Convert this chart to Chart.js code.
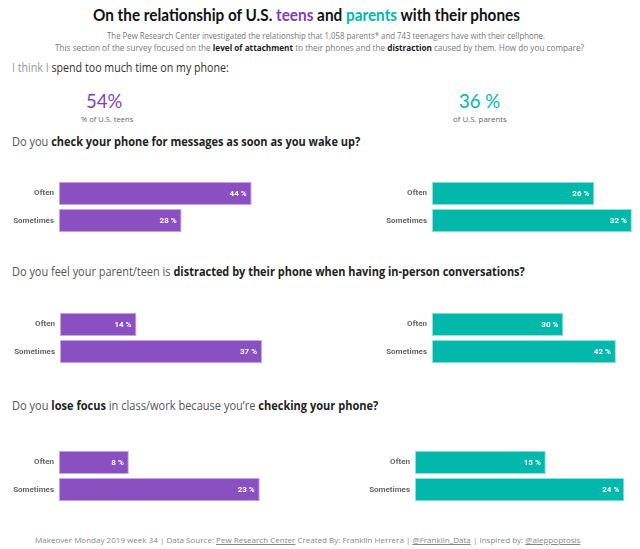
<!DOCTYPE html>
<html>
<head>
<meta charset="utf-8">
<script src="https://cdn.jsdelivr.net/npm/chart.js@4"></script>
<style>
  html, body { margin: 0; padding: 0; background: #fff; }
  #page { position: relative; width: 640px; height: 549px; overflow: hidden; font-family: "Open Sans", sans-serif; }
  .t { position: absolute; white-space: nowrap; line-height: 1; transform-origin: 0 50%; transform: translateY(-50%); }
  .box { position: absolute; height: 74px; }
  .box canvas { display: block; }
  b { font-weight: 700; color: #222; }
  .teen { color: #7b3fbf; }
  .parent { color: #01b8aa; }
  .footer u { text-decoration: underline; }
</style>
</head>
<body>
<div id="page">
  <div class="t" style="left:93px;top:14px;font:700 17px Lato, sans-serif;color:#111" data-w="427">On the relationship of U.S. <span class="teen">teens</span> and <span class="parent">parents</span> with their phones</div>
  <div class="t" style="left:107px;top:35px;font-size:9px;color:#777" data-w="438">The Pew Research Center investigated the relationship that 1,058 parents* and 743 teenagers have with their cellphone.</div>
  <div class="t" style="left:55px;top:47px;font-size:9px;color:#777" data-w="529">This section of the survey focused on the <b>level of attachment</b> to their phones and the <b>distraction</b> caused by them. How do you compare?</div>
  <div class="t" style="left:12px;top:68px;font-size:12px;color:#333" data-w="217"><span style="color:#999">I think I</span> spend too much time on my phone:</div>

  <div class="t" id="teenPct" style="left:86px;top:100px;font:400 19px Lato, sans-serif;color:#7b3fbf" data-w="36"></div>
  <div class="t" style="left:81px;top:119px;font-size:8px;color:#666" data-w="52">% of U.S. teens</div>
  <div class="t" id="parentPct" style="left:459px;top:100px;font:400 19px Lato, sans-serif;color:#01b8aa" data-w="41"></div>
  <div class="t" style="left:453px;top:119px;font-size:8px;color:#666" data-w="54">of U.S. parents</div>

  <div class="t" style="left:12px;top:142px;font-size:12px;color:#555" data-w="348">Do you <b>check your phone for messages as soon as you wake up?</b></div>
  <div class="t" style="left:12px;top:272px;font-size:12px;color:#555" data-w="513">Do you feel your parent/teen is <b>distracted by their phone when having in-person conversations?</b></div>
  <div class="t" style="left:12px;top:406px;font-size:12px;color:#555" data-w="366">Do you <b>lose focus</b> in class/work because you’re <b>checking your phone?</b></div>

  <!-- chart.js hält oben/unten ~10px frei, deshalb 74px hoch und 10px nach oben versetzt -->
  <div class="box" style="left:0;top:170px;width:320px"><canvas id="c1" width="320" height="74"></canvas></div>
  <div class="box" style="left:330px;top:170px;width:310px"><canvas id="c2" width="310" height="74"></canvas></div>
  <div class="box" style="left:0;top:301px;width:320px"><canvas id="c3" width="320" height="74"></canvas></div>
  <div class="box" style="left:330px;top:301px;width:310px"><canvas id="c4" width="310" height="74"></canvas></div>
  <div class="box" style="left:0;top:439px;width:320px"><canvas id="c5" width="320" height="74"></canvas></div>
  <div class="box" style="left:330px;top:439px;width:310px"><canvas id="c6" width="310" height="74"></canvas></div>

  <div class="t footer" style="left:35px;top:540px;font-size:8px;color:#888" data-w="545">Makeover Monday 2019 week 34 | Data Source: <u>Pew Research Center</u> Created By: Franklin Herrera | <u>@Franklin_Data</u> | Inspired by: <u>@aleppoptosis</u></div>
</div>

<script>
// Daten
const categories = ["Often", "Sometimes"];
const spendTooMuch = [54, 36];          // teens, parents
const teensWakeUp = [44, 28];
const parentsWakeUp = [26, 32];
const teensDistracted = [14, 37];
const parentsDistracted = [30, 42];
const teensLoseFocus = [8, 23];
const parentsLoseFocus = [15, 24];

const TEEN = '#8a4fc0', TEEN_EDGE = '#c7a6e6';
const PARENT = '#01b8aa', PARENT_EDGE = '#8fe3da';

document.getElementById('teenPct').textContent = spendTooMuch[0] + '%';
document.getElementById('parentPct').textContent = spendTooMuch[1] + ' %';

// Werte in die Balken schreiben
const valueLabels = {
    id: 'valueLabels',
    afterDatasetsDraw(chart) {
        const ctx = chart.ctx;
        const ds = chart.data.datasets[0];
        ctx.save();
        ctx.font = 'bold 8px Roboto';
        ctx.fillStyle = '#fff';
        ctx.textAlign = 'right';
        ctx.textBaseline = 'middle';
        chart.getDatasetMeta(0).data.forEach((bar, i) => {
            ctx.fillText(ds.data[i] + ' %', bar.x - 5, bar.y + 0.5);
        });
        ctx.restore();
    }
};

function barChart(id, values, color, edge, labelWidth, xMax) {
    return new Chart(document.getElementById(id), {
        type: 'bar',
        data: {
            labels: categories,
            datasets: [{
                data: values,
                backgroundColor: color,
                borderColor: edge,
                borderWidth: 1,
                borderSkipped: false,
                barPercentage: 0.86,
                categoryPercentage: 1
            }]
        },
        options: {
            indexAxis: 'y',
            responsive: false,
            animation: false,
            layout: { padding: 0 },
            scales: {
                x: { display: false, min: 0, max: xMax },
                y: {
                    grid: { display: false, drawTicks: false },
                    border: { display: false },
                    ticks: { color: '#666', padding: 5, font: { family: 'Roboto', size: 8, weight: 'bold' } },
                    afterFit: (axis) => { axis.width = labelWidth; }
                }
            },
            plugins: { legend: { display: false }, tooltip: { enabled: false } }
        },
        plugins: [valueLabels]
    });
}

barChart('c1', teensWakeUp, TEEN, TEEN_EDGE, 59, 59.6);
barChart('c2', parentsWakeUp, PARENT, PARENT_EDGE, 102, 33.3);
barChart('c3', teensDistracted, TEEN, TEEN_EDGE, 60, 47.6);
barChart('c4', parentsDistracted, PARENT, PARENT_EDGE, 102, 47.5);
barChart('c5', teensLoseFocus, TEEN, TEEN_EDGE, 59, 29.9);
barChart('c6', parentsLoseFocus, PARENT, PARENT_EDGE, 85, 25.8);

// Texte auf Zielbreite bringen
document.querySelectorAll('.t[data-w]').forEach(el => {
    const s = Number(el.dataset.w) / el.offsetWidth;
    el.style.transform = 'translateY(-50%) scaleX(' + s.toFixed(3) + ')';
});
</script>
</body>
</html>
